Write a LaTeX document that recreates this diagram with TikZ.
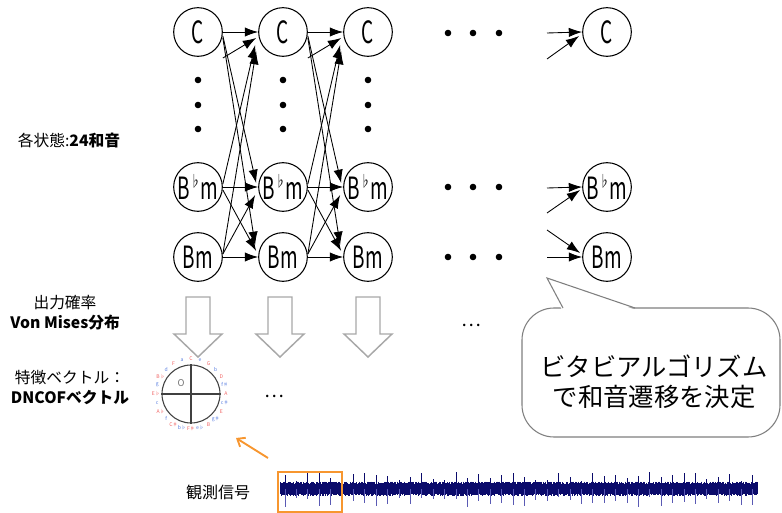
\documentclass[tikz,border=0pt]{standalone}
\usepackage{fontspec}
\usetikzlibrary{arrows.meta,calc}
\newfontfamily\jp{Noto Sans CJK JP}
\definecolor{ringred}{HTML}{F06464}
\definecolor{ringblue}{HTML}{5B7FE0}
\definecolor{wavecol}{HTML}{0B0B6B}
\definecolor{wavelight}{HTML}{5A5AB4}
\definecolor{sigorange}{HTML}{F7962F}
\definecolor{hollowgray}{HTML}{A8A8A8}
\definecolor{bubblegray}{HTML}{7F7F7F}
\newcommand\chordtxt[1]{\scalebox{0.62}[1]{#1}}
\newcommand\flatsym{\raisebox{0.38em}{\fontsize{12}{12}\selectfont ♭}}
\begin{document}
\begin{tikzpicture}[x=0.75pt,y=-0.75pt,
  state/.style={circle,draw,line width=0.8pt,minimum size=36.5pt,inner sep=0pt,
    font=\jp\fontsize{23}{23}\selectfont},
  trans/.style={-{Latex[length=10pt,width=7pt]},line width=0.65pt},
  dotmark/.style={fill=black},
  label/.style={font=\jp\fontsize{11.8}{13}\selectfont,inner sep=0pt},
  hollowarrow/.style={draw=hollowgray,line width=1.1pt,fill=white},
  ringlab/.style={font=\jp\fontsize{3.8}{4}\selectfont,inner sep=0pt}]
\useasboundingbox (0,0) rectangle (782,513);

% ---- HMM states ----
\foreach \i/\x in {1/198,2/283,3/368,4/607}{
  \node[state] (c\i) at (\x,32) {\chordtxt{C}};
  \node[state] (f\i) at (\x,187) {\chordtxt{B\flatsym m}};
  \node[state] (m\i) at (\x,257) {\chordtxt{Bm}};
}

% vertical ellipsis between C and B-flat minor
\foreach \x in {198,283,368}{
  \foreach \y in {80,105,129}{ \fill[dotmark] (\x,\y) circle (3.3); }
}
% horizontal ellipsis towards the last frame
\foreach \y in {33,187,257}{
  \foreach \x in {448,473,499}{ \fill[dotmark] (\x,\y) circle (3.3); }
}

% ---- transitions between consecutive frames ----
\foreach \a/\b in {1/2,2/3}{
  \coordinate (h\a) at ($(c\a.east)+(0,26)$);
  \draw[trans] (c\a.east) -- (c\b.west);
  \draw[trans] (h\a) -- ($(c\b.west)+(-2,6)$);
  \draw[trans] ($(c\a.east)+(0,4)$) -- ($(f\b.west)+(-2,-4)$);
  \draw[trans] ($(c\a.east)+(0,6)$) -- ($(m\b.west)+(-3,-12)$);
  \draw[trans] ($(f\a.east)+(0,-3)$) -- ($(c\b.west)+(-3,13)$);
  \draw[trans] (f\a.east) -- (f\b.west);
  \draw[trans] ($(f\a.east)+(0,3)$) -- ($(m\b.west)+(-2,-6)$);
  \draw[trans] ($(m\a.east)+(0,-3)$) -- ($(c\b.west)+(-2,19)$);
  \draw[trans] ($(m\a.east)+(0,-3)$) -- ($(f\b.west)+(-3,8)$);
  \draw[trans] (m\a.east) -- (m\b.west);
}
% incoming transitions of the last frame
\coordinate (lc1) at (547,33);  \coordinate (lc2) at (547,59);
\coordinate (lf1) at (547,188); \coordinate (lf2) at (547,213);
\coordinate (lm1) at (547,230); \coordinate (lm2) at (547,257);
\draw[trans] (lc1) -- (c4.west);
\draw[trans] (lc2) -- ($(c4.west)+(-3,4)$);
\draw[trans] (lf1) -- (f4.west);
\draw[trans] (lf2) -- ($(f4.west)+(-2,3)$);
\draw[trans] (lm1) -- ($(m4.west)+(-2,-4)$);
\draw[trans] (lm2) -- (m4.west);

% ---- output probability arrows ----
\foreach \x in {198,280,368}{
  \draw[hollowarrow] ({\x-12},297) -- ({\x+12},297) -- ({\x+12},334) -- ({\x+24},334)
    -- (\x,357) -- ({\x-24},334) -- ({\x-12},334) -- cycle;
}
\node[font=\jp\fontsize{14}{14}\selectfont,inner sep=0pt] (dotsA) at (471,325) {…};
\node[font=\jp\fontsize{14}{14}\selectfont,inner sep=0pt] (dotsB) at (274,396) {…};

% ---- chroma feature circle ----
\node[circle,draw=black!75,line width=0.8pt,minimum size=43.5pt,inner sep=0pt] (feat) at (191,394) {};
\draw[black!75,line width=0.8pt] (feat.west) -- (feat.east) (feat.north) -- (feat.south);
\node[text=black!55,font=\jp\fontsize{7}{7}\selectfont] (mark) at (181,383) {O};
\foreach \lab [count=\i from 0] in {C,e,G,b,D,f♯,A,c♯,E,g♯,B,e♭,F♯,b♭,C♯,f,A♭,c,E♭,g,B♭,d,F,a}{
  \ifodd\i \def\labcol{ringblue}\else\def\labcol{ringred}\fi
  \node[ringlab,text=\labcol] (ring\i) at ({191+35*sin(\i*15)},{394-35*cos(\i*15)}) {\lab};
}

% ---- left-hand labels ----
\node[label] (lstate) at (69,141) {各状態:\textbf{24和音}};
\node[label] (lprob) at (65,303) {出力確率};
\node[label] (lvm) at (65,323) {\textbf{Von Mises分布}};
\node[label] (lfeat) at (70,378) {特徴ベクトル：};
\node[label] (ldn) at (70,398) {\textbf{DNCOFベクトル}};
\node[font=\jp\fontsize{12}{12}\selectfont,inner sep=0pt] (obs) at (218,492) {観測信号};

% ---- observed signal ----
\pgfmathsetseed{4242}
\draw[wavecol,line width=0.55pt] \foreach \i in {0,...,796}{
  ({280+\i*0.6},{489-5-2.5*rnd}) -- ({280+\i*0.6},{489+4.5+2.5*rnd}) };
\draw[wavelight,line width=0.6pt] \foreach \k in {0,...,41}{
  ({285+\k*11.4},489) -- ({285+\k*11.4},{489+8+10*rnd}) };
\draw[wavecol,line width=0.7pt] \foreach \k in {0,...,41}{
  ({285+\k*11.4},489) -- ({285+\k*11.4},{489-8-9*rnd}) };
\node[draw=sigorange,line width=1.5pt,minimum width=48pt,minimum height=30pt,inner sep=0pt] (frame) at (309.5,492) {};
\coordinate (otail) at (268,458);
\coordinate (otip) at (236,438);
\draw[sigorange,line width=1.4pt,-{Straight Barb[length=5pt,width=8pt]}] (otail) -- (otip);

% ---- callout ----
\draw[bubblegray,line width=0.8pt,fill=white,rounded corners=24] (522,308) rectangle (780,437);
\fill[white] (562,310) -- (547,278) -- (636,310) -- cycle;
\draw[bubblegray,line width=0.8pt] (563,308) -- (547,278) -- (635,308);
\node[font=\jp\fontsize{19}{22.5}\selectfont,align=center,inner sep=0pt] (viterbi) at (654,382)
  {ビタビアルゴリズム\\で和音遷移を決定};
\end{tikzpicture}
\end{document}
